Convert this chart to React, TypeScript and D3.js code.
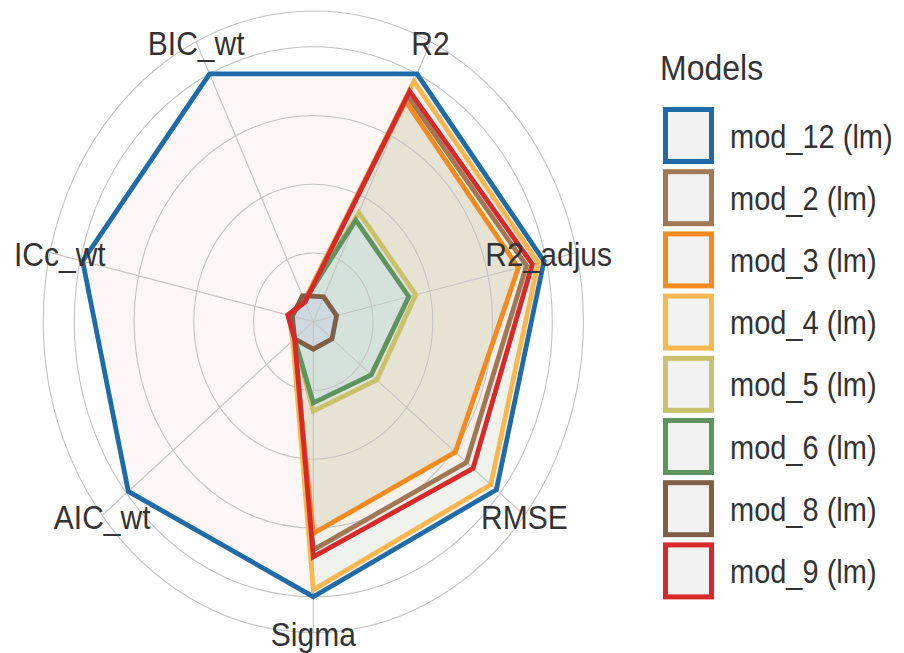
import React from "react";
import * as d3 from "d3";

// ---- data ----
const axes = ["R2", "R2_adjus", "RMSE", "Sigma", "AIC_wt", "ICc_wt", "BIC_wt"];
const models = ["mod_12 (lm)", "mod_2 (lm)", "mod_3 (lm)", "mod_4 (lm)", "mod_5 (lm)", "mod_6 (lm)", "mod_8 (lm)", "mod_9 (lm)"];
const mod12 = [1.0, 0.99, 0.98, 1.0, 0.99, 0.99, 1.0];
const mod2 = [0.91, 0.915, 0.82, 0.83, 0.1, 0.105, 0.08];
const mod3 = [0.89, 0.88, 0.76, 0.77, 0.105, 0.105, 0.085];
const mod4 = [0.97, 0.965, 0.95, 0.975, 0.11, 0.105, 0.085];
const mod5 = [0.44, 0.44, 0.34, 0.325, 0.1, 0.1, 0.085];
const mod6 = [0.41, 0.41, 0.31, 0.295, 0.1, 0.1, 0.085];
const mod8 = [0.1, 0.1, 0.1, 0.1, 0.1, 0.09, 0.105];
const mod9 = [0.93, 0.94, 0.855, 0.855, 0.1, 0.11, 0.08];
const seriesValues = [mod12, mod2, mod3, mod4, mod5, mod6, mod8, mod9];
const gridLevels = [0.25, 0.5, 0.75, 1.0, 1.13];

// ---- styles ----
const lineColors = ["#1f6ba8", "#a07855", "#f58a1f", "#fbb64f", "#c9c16c", "#5f9460", "#7f5f45", "#d7282a"];
const regionFills = ["#fdf6f6", "#f5f1ea", "#e7e3d4", "#f0f2ed", "#e5e3d3", "#d5e2dc", "#cfdae0", "#efeee6"];

const W = 904;
const H = 653;
const cx = 313.3;
const cy = 321.7;
const Rx = 239;
const Ry = 275;
const textStretch = 1.12;
const font = "'Liberation Sans', Arial, sans-serif";

const angle = d3.scaleLinear().domain([0, axes.length]).range([Math.PI / 7, Math.PI / 7 + 2 * Math.PI]);
const rScale = d3.scaleLinear().domain([0, 1]).range([0, 1]);

function pt(i: number, v: number): [number, number] {
  const a = angle(i);
  const r = rScale(v);
  return [cx + Rx * r * Math.sin(a), cy - Ry * r * Math.cos(a)];
}

const polyLine = d3.line<[number, number]>().curve(d3.curveLinearClosed);

export default function App() {
  const polys = seriesValues.map((vals) => vals.map((v, i) => pt(i, v)));
  const fillOrder = d3.range(polys.length).sort(
    (a, b) => Math.abs(d3.polygonArea(polys[b])) - Math.abs(d3.polygonArea(polys[a]))
  );

  const labelR = 1.13;
  const anchors: Record<string, { anchor: string; x?: number }> = {
    "R2_adjus": { anchor: "end", x: 612 },
    "ICc_wt": { anchor: "start", x: 14 },
  };

  const legendX = 663;
  const legendTop = 107;
  const keyW = 51;
  const keyH = 57;
  const pitch = 62.2;

  return (
    <svg width={W} height={H} style={{ position: "absolute", left: 0, top: 0, background: "#fff" }} xmlns="http://www.w3.org/2000/svg">
      <rect x={0} y={0} width={W} height={H} fill="#ffffff" />
      {/* fills */}
      {fillOrder.map((k) => (
        <path key={"f" + k} d={polyLine(polys[k]) || ""} fill={regionFills[k]} stroke="none" />
      ))}
      {/* grid */}
      <g stroke="#c3c3c3" strokeWidth={1.1} fill="none">
        {gridLevels.map((g) => (
          <ellipse key={"g" + g} cx={cx} cy={cy} rx={Rx * rScale(g)} ry={Ry * rScale(g)} />
        ))}
        {axes.map((a, i) => {
          const [x, y] = pt(i, gridLevels[gridLevels.length - 1]);
          return <line key={"s" + a} x1={cx} y1={cy} x2={x} y2={y} />;
        })}
      </g>
      {/* outlines */}
      {polys.map((p, k) => (
        <path key={"l" + k} d={polyLine(p) || ""} fill="none" stroke={lineColors[k]} strokeWidth={4.8} strokeLinejoin="miter" strokeMiterlimit={10} />
      ))}
      {/* axis labels */}
      {axes.map((a, i) => {
        const [x, y] = pt(i, labelR);
        const o = anchors[a];
        const tx = o && o.x !== undefined ? o.x : x;
        return (
          <text
            key={"t" + a}
            transform={`translate(${tx},${y + 2}) scale(1,${textStretch})`}
            textAnchor={o ? o.anchor : "middle"}
            dominantBaseline="central"
            fontFamily={font}
            fontSize={30}
            fill="#333333"
          >
            {a}
          </text>
        );
      })}
      {/* legend */}
      <text transform={`translate(660,67) scale(1,${textStretch})`} dominantBaseline="central" fontFamily={font} fontSize={32} fill="#333333">
        Models
      </text>
      {models.map((m, k) => {
        const top = legendTop + pitch * k;
        return (
          <g key={"k" + m}>
            <rect x={legendX + 2.5} y={top + 2.5} width={keyW - 5} height={keyH - 5} fill="#f2f2f2" stroke={lineColors[k]} strokeWidth={5} />
            <text transform={`translate(730,${top + keyH / 2 + 1}) scale(1,${textStretch})`} dominantBaseline="central" fontFamily={font} fontSize={29} fill="#333333">
              {m}
            </text>
          </g>
        );
      })}
    </svg>
  );
}
